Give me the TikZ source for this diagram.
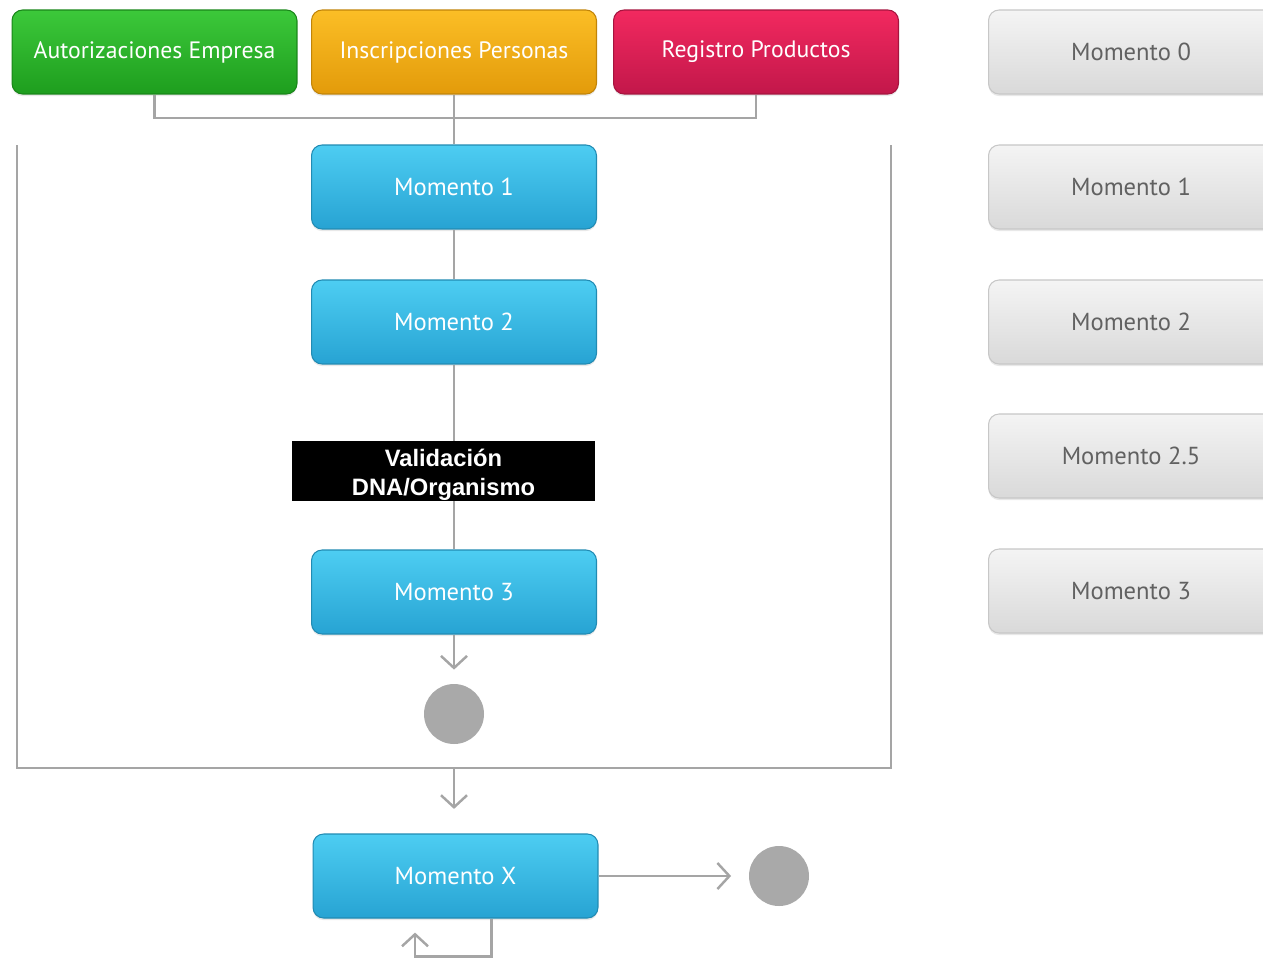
\documentclass[tikz,border=0pt]{standalone}
\usepackage{fontspec}
\setmainfont{PT Sans}
\newfontfamily\arialfont{Liberation Sans}
\usetikzlibrary{arrows.meta,shadows}

\definecolor{linegray}{HTML}{A5A5A5}
\definecolor{dotgray}{HTML}{A9A9A9}
\definecolor{empresaT}{HTML}{3CC83A}
\definecolor{empresaB}{HTML}{1E9E1E}
\definecolor{personasT}{HTML}{FBBE26}
\definecolor{personasB}{HTML}{E39B0A}
\definecolor{productosT}{HTML}{F2295F}
\definecolor{productosB}{HTML}{C2174A}
\definecolor{momentoT}{HTML}{4DCDF2}
\definecolor{momentoB}{HTML}{27A3D3}
\definecolor{previoT}{HTML}{F4F4F4}
\definecolor{previoB}{HTML}{D9D9D9}

\tikzset{
	boxbase/.style={rounded corners=6pt, minimum width=5.7cm, minimum height=1.68cm,
		line width=0.6pt, font=\fontsize{13.5}{16}\selectfont,
		drop shadow={opacity=.18, shadow xshift=0pt, shadow yshift=-1.2pt}},
	empresa/.style={boxbase, text=white, draw=empresaB!85!black, top color=empresaT, bottom color=empresaB},
	personas/.style={boxbase, text=white, draw=personasB!85!black, top color=personasT, bottom color=personasB},
	productos/.style={boxbase, text=white, draw=productosB!85!black, top color=productosT, bottom color=productosB},
	momento/.style={boxbase, text=white, draw=momentoB!85!black, top color=momentoT, bottom color=momentoB,
		font=\fontsize{14}{16}\selectfont},
	previo/.style={boxbase, text=black!62, draw=black!22, top color=previoT, bottom color=previoB,
		font=\fontsize{14}{16}\selectfont},
	fin/.style={circle, fill=dotgray, minimum size=1.2cm, inner sep=0pt},
	flujo/.style={draw=linegray, line width=1.4pt},
	paso/.style={flujo, -{Straight Barb[length=2.4mm,width=5.2mm,line width=1.4pt]}}
}

\begin{document}
\begin{tikzpicture}[x=0.02cm, y=-0.02cm]
	\fill[white] (0,0) rectangle (1263,957);
	\useasboundingbox (0,0) rectangle (1263,957);
	\clip (0,0) rectangle (1263,957);

	% The three sources on top
	\node[empresa]   (auto) at (154.5,52) {Autorizaciones Empresa};
	\node[personas]  (insc) at (454,52)   {Inscripciones Personas};
	\node[productos] (reg)  at (756,52)   {Registro Productos};

	% The moments in the middle
	\node[momento] (m1) at (454,187) {Momento 1};
	\node[momento] (m2) at (454,322) {Momento 2};
	\node[fill=black, text=white, inner sep=0pt, minimum width=6.06cm, minimum height=1.2cm,
		align=center, font=\arialfont\bfseries\fontsize{13.5}{16.8}\selectfont]
		(val) at (443.5,471) {\rule{0pt}{14.5pt}Validaci\'on\\DNA/Organismo};
	\node[momento] (m3) at (454,592) {Momento 3};
	\node[fin] (end1) at (454,714) {};
	\node[momento] (mx) at (455.5,876) {Momento X};
	\node[fin] (end2) at (779,876) {};

	% The list on the right
	\node[previo] (p0)  at (1131,52)  {Momento 0};
	\node[previo] (p1)  at (1131,187) {Momento 1};
	\node[previo] (p2)  at (1131,322) {Momento 2};
	\node[previo] (p25) at (1131,456) {Momento 2.5};
	\node[previo] (p3)  at (1131,591) {Momento 3};

	% The joins between them
	\coordinate (join) at (454,118);
	\draw[flujo] (auto) |- (join) -| (reg);
	\draw[flujo] (insc) -- (m1);
	\draw[flujo] (m1) -- (m2);
	\draw[flujo] (m2.south) -- (m2.south |- val.north);
	\draw[flujo] (m3.north |- val.south) -- (m3.north);
	\draw[paso, shorten >=8] (m3) -- (end1);

	% The frame round the moments
	\coordinate (framemid) at (454,768);
	\draw[flujo] (17,145) |- (891,768) -- (891,145);
	\draw[paso, shorten >=14] (framemid) -- (framemid |- mx.north);
	\draw[paso, shorten >=10] (mx) -- (end2);
	\draw[paso, shorten >=8] ([xshift=0.72cm]mx.south) -- ++(0,38) -| ([xshift=-0.81cm]mx.south);
\end{tikzpicture}
\end{document}
